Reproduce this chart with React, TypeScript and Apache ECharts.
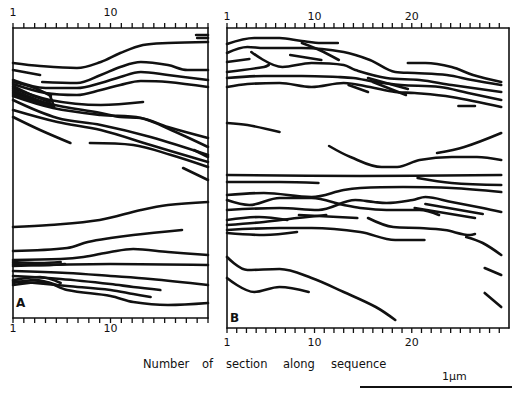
import React, { useEffect, useRef } from "react";
import * as echarts from "echarts";

// Section numbers (x) and lateral positions (y, arbitrary units from panel top)
const ticksShown = [1, 10, 20];
const sectionsA = [1, 2, 3, 4, 5, 6, 7, 8, 9, 10, 11, 12, 13, 14, 15, 16, 17, 18, 19];
const sectionsB = [1, 2, 3, 4, 5, 6, 7, 8, 9, 10, 11, 12, 13, 14, 15, 16, 17, 18, 19, 20, 21, 22, 23, 24, 25, 26, 27, 28, 29];
const axisWords = ["Number", "of", "section", "along", "sequence"];

// Panel A traces
const a01 = [[17.9, 7], [19, 7]];
const a02 = [[18, 10], [19, 10]];
const a03 = [[1, 35], [3.5, 38], [6.9, 40], [9.1, 34], [10.9, 25], [13, 17], [15.3, 15], [19, 14]];
const a04 = [[1, 42], [3.5, 47]];
const a05 = [[3.7, 54], [6.9, 55], [9.1, 47], [10.9, 39], [12.8, 34], [15.3, 37], [17.1, 42], [19, 42]];
const a06 = [[1, 52], [4, 60], [6.9, 60], [9.1, 55], [10.9, 49], [12.8, 44], [15.3, 47], [19, 52]];
const a07 = [[1, 56], [4, 65], [6.9, 67], [9.1, 62], [10.9, 57], [12.8, 53], [15.3, 54], [19, 59]];
const a08 = [[1, 60], [4.4, 72], [9.1, 77], [13, 74]];
const a09 = [[1, 64], [4.4, 76], [9.1, 85], [10.9, 89], [12.8, 90], [15.3, 99], [19, 110]];
const a10 = [[1, 68], [4.7, 80], [9.1, 87], [12.8, 90], [15.6, 102], [19, 119]];
const a11 = [[1, 72], [5.1, 90], [9.1, 97], [13.7, 109], [19, 127]];
const a12 = [[1, 82], [5.1, 94], [9.1, 102], [13.7, 117], [19, 134]];
const a13 = [[1, 89], [3.5, 102], [6.3, 115]];
const a14 = [[8.1, 115], [12.1, 117], [15.6, 127], [19, 139]];
const a15 = [[17.7, 122], [19, 129]];
const a16 = [[16.7, 140], [19, 152]];
const a17 = [[1, 54], [3, 60], [4.5, 68]];
const a18 = [[1, 58], [2.5, 66], [4.4, 74]];
const a19 = [[4.4, 67], [4.8, 79]];
const a20 = [[1, 62], [2.8, 70], [4.2, 76]];
const a21 = [[1, 66], [3.2, 74], [4.6, 78]];
const al01 = [[1, 199], [4.4, 197], [9, 192], [12.8, 182], [15.3, 177], [19, 174]];
const al02 = [[1, 223], [6, 220], [7.9, 214], [10, 210], [12.1, 207], [16.6, 202]];
const al03 = [[1, 232], [5.4, 231], [7.5, 229], [10, 224], [12.1, 221], [15.3, 224], [19, 227]];
const al04 = [[1, 238], [10, 236], [19, 237]];
const al05 = [[1, 243], [6, 245], [10, 248], [13.7, 251], [19, 257]];
const al06 = [[1, 248], [5.4, 251], [10, 256], [12.1, 259], [14.6, 262]];
const al07 = [[1, 253], [6, 258], [10, 262], [12.1, 266], [13.7, 269]];
const al08 = [[1, 257], [3.8, 254], [6, 262], [10, 268], [12.1, 274], [15.3, 277], [19, 275]];
const al09 = [[1, 234], [3.5, 235], [5.4, 234]];
const al10 = [[1, 252], [3.5, 249], [5.4, 255]];
const al11 = [[1, 236], [4, 237], [5.8, 236]];
const al12 = [[1, 255], [3, 252], [5, 257]];

// Panel B traces
const bt01 = [[1, 16], [3.8, 10], [6.4, 10], [8.7, 13], [10.7, 15], [12.4, 15]];
const bt02 = [[8.7, 15], [10.5, 22], [12.5, 32]];
const bt03 = [[1, 25], [3.1, 19], [4.8, 20], [8.7, 20], [13, 24], [15.7, 32], [18.3, 44], [20.3, 45], [23.6, 47], [26.2, 52], [29.2, 57]];
const bt04 = [[1, 34], [3.3, 31]];
const bt05 = [[3.5, 24], [6.7, 39], [9.7, 35], [13, 37], [14.2, 42], [17.4, 50], [20.8, 52], [24.1, 57], [29.2, 64]];
const bt06 = [[7.5, 27], [10.7, 32]];
const bt07 = [[1, 44], [4.8, 39], [5.3, 37]];
const bt08 = [[1, 50], [4.8, 48], [8.7, 48], [12.4, 49], [14, 50], [16.3, 54], [18.9, 57], [22.9, 59], [25.8, 65], [29.2, 72]];
const bt09 = [[1, 59], [3.1, 56], [6.4, 55], [9.7, 59], [13, 55], [15.7, 59], [18.3, 64], [20.3, 65], [24.1, 69], [29.2, 79]];
const bt10 = [[13.5, 57], [15.5, 64]];
const bt11 = [[15.5, 50], [19.6, 61]];
const bt12 = [[16, 54], [19.4, 67]];
const bt13 = [[19.6, 35], [21.4, 35], [24.1, 39], [26.3, 47], [29.2, 54]];
const bt14 = [[24.8, 78], [26.5, 78]];
const bt15 = [[1, 95], [3.1, 97], [6.4, 104]];
const bt16 = [[11.5, 118], [13.7, 129], [16.9, 139], [18.5, 139], [20.8, 132], [24.1, 129], [26.7, 129], [29.2, 132]];
const bt17 = [[22.6, 125], [25.4, 119], [29.2, 105]];
const bm01 = [[1, 147], [14.7, 148], [29.2, 147]];
const bm02 = [[1, 154], [6.4, 154], [10.4, 155]];
const bm03 = [[20.6, 150], [24.1, 155], [29.2, 157]];
const bm04 = [[1, 167], [4.8, 165], [9.7, 169], [13, 162], [14.7, 160], [19.1, 159], [24.1, 160], [29.2, 164]];
const bm05 = [[1, 172], [3.3, 177], [6.4, 170], [9.7, 170], [13, 177], [14.7, 180], [17.4, 182], [20.8, 182], [22.8, 187]];
const bm06 = [[1, 182], [6.4, 180], [10.4, 182], [14.2, 172], [16.1, 174], [17.4, 175], [20.1, 172], [21.4, 169], [24.1, 174], [27.3, 180], [29.2, 184]];
const bm07 = [[21.4, 176], [27.3, 186]];
const bm08 = [[20.3, 180], [26.5, 190]];
const bm09 = [[8.4, 187], [14.4, 190]];
const bm10 = [[1, 192], [4.3, 189], [7.2, 192]];
const bm11 = [[1, 197], [4.8, 194], [8.2, 190], [11.2, 187]];
const bm12 = [[1, 202], [6.4, 200], [9.7, 200], [14.7, 204], [18.3, 212], [21.3, 212]];
const bm13 = [[1, 205], [4.8, 207], [8.2, 204]];
const bm14 = [[15.5, 190], [18.1, 199], [20.8, 200], [23.4, 202], [26, 207], [26.5, 206]];
const bm15 = [[25.6, 209], [27.3, 215], [29.2, 227]];
const bm16 = [[1, 229], [3.1, 242], [6.4, 241], [9.7, 250], [13, 264], [16.3, 279], [18.3, 292]];
const bm17 = [[1, 250], [3.8, 264], [6.4, 259], [9.4, 264]];
const bm18 = [[27.5, 240], [29.2, 247]];
const bm19 = [[27.5, 265], [29.2, 279]];

const tracesA = [a01, a02, a03, a04, a05, a06, a07, a08, a09, a10, a11, a12, a13, a14, a15, a16, a17, a18, a19, a20, a21,
  al01, al02, al03, al04, al05, al06, al07, al08, al09, al10, al11, al12];
const tracesB = [bt01, bt02, bt03, bt04, bt05, bt06, bt07, bt08, bt09, bt10, bt11, bt12, bt13, bt14, bt15, bt16, bt17,
  bm01, bm02, bm03, bm04, bm05, bm06, bm07, bm08, bm09, bm10, bm11, bm12, bm13, bm14, bm15, bm16, bm17, bm18, bm19];

const INK = "#111";
const FONT = "DejaVu Sans";
const A_MAX = 290;
const B_MAX = 300;
const wordLefts = [143, 202, 226, 283, 331];

function xAxisDef(gridIndex: number, position: "top" | "bottom", max: number, margin: number) {
  return {
    type: "value",
    gridIndex,
    position,
    min: 1,
    max,
    interval: 1,
    axisLine: { show: true, onZero: false, lineStyle: { color: INK, width: 1.6 } },
    axisTick: { show: false },
    axisLabel: {
      show: true,
      margin,
      color: INK,
      fontFamily: FONT,
      fontSize: 11,
      formatter: (v: number) => (ticksShown.includes(v) ? String(v) : ""),
    },
    splitLine: { show: false },
  };
}

function yAxisDef(gridIndex: number, position: "left" | "right", max: number) {
  return {
    type: "value",
    gridIndex,
    position,
    min: 0,
    max,
    inverse: true,
    axisLine: { show: true, onZero: false, lineStyle: { color: INK, width: 1.6 } },
    axisTick: { show: false },
    axisLabel: { show: false },
    splitLine: { show: false },
  };
}

function tickSeries(sections: number[], xi: number, yi: number, ymax: number) {
  const data: number[][] = [];
  sections.forEach((s) => {
    data.push([s, 0]);
    data.push([s, ymax]);
  });
  return {
    type: "custom",
    xAxisIndex: xi,
    yAxisIndex: yi,
    silent: true,
    clip: false,
    data,
    renderItem: (_p: any, api: any) => {
      const s = api.value(0);
      const yv = api.value(1);
      const pt = api.coord([s, yv]);
      const dir = yv === 0 ? -1 : 1;
      return {
        type: "line",
        shape: { x1: pt[0], y1: pt[1], x2: pt[0], y2: pt[1] + dir * 5 },
        style: { stroke: INK, lineWidth: 1.3 },
      };
    },
  };
}

export default function App() {
  const ref = useRef<HTMLDivElement>(null);
  useEffect(() => {
    if (!ref.current) return;
    const chart = echarts.init(ref.current, undefined, { renderer: "svg" });
    const mk = (d: number[][], xi: number, yi: number) => ({
      type: "line",
      data: d,
      xAxisIndex: xi,
      yAxisIndex: yi,
      showSymbol: false,
      smooth: 0.35,
      silent: true,
      lineStyle: { color: INK, width: 2.6, cap: "round", join: "round" },
    });
    chart.setOption({
      animation: false,
      backgroundColor: "#fff",
      grid: [
        { left: 13, top: 28, width: 195, height: A_MAX, containLabel: false },
        { left: 227, top: 28, width: 293, height: B_MAX, containLabel: false },
      ],
      xAxis: [
        xAxisDef(0, "bottom", 19, 5),
        xAxisDef(0, "top", 19, 10),
        xAxisDef(1, "bottom", 30, 9),
        xAxisDef(1, "top", 30, 6),
      ],
      yAxis: [yAxisDef(0, "left", A_MAX), yAxisDef(0, "right", A_MAX), yAxisDef(1, "left", B_MAX), yAxisDef(1, "right", B_MAX)],
      series: [
        ...tracesA.map((d) => mk(d, 0, 0)),
        ...tracesB.map((d) => mk(d, 2, 2)),
        tickSeries(sectionsA, 0, 0, A_MAX),
        tickSeries(sectionsB, 2, 2, B_MAX),
      ],
      graphic: [
        { type: "text", left: 16, top: 297, style: { text: "A", fontFamily: FONT, fontSize: 12, fontWeight: "bold", fill: INK } },
        { type: "text", left: 230, top: 312, style: { text: "B", fontFamily: FONT, fontSize: 12, fontWeight: "bold", fill: INK } },
        ...axisWords.map((w, i) => ({
          type: "text",
          left: wordLefts[i],
          top: 358,
          style: { text: w, fontFamily: FONT, fontSize: 11.5, fill: INK },
        })),
        { type: "text", left: 442, top: 371, style: { text: "1μm", fontFamily: FONT, fontSize: 11, fill: INK } },
        { type: "line", shape: { x1: 360, y1: 387, x2: 512, y2: 387 }, style: { stroke: INK, lineWidth: 2 } },
      ],
    });
    return () => chart.dispose();
  }, []);
  return <div ref={ref} style={{ position: "fixed", left: 0, top: 0, width: 512, height: 396, background: "#fff" }} />;
}
